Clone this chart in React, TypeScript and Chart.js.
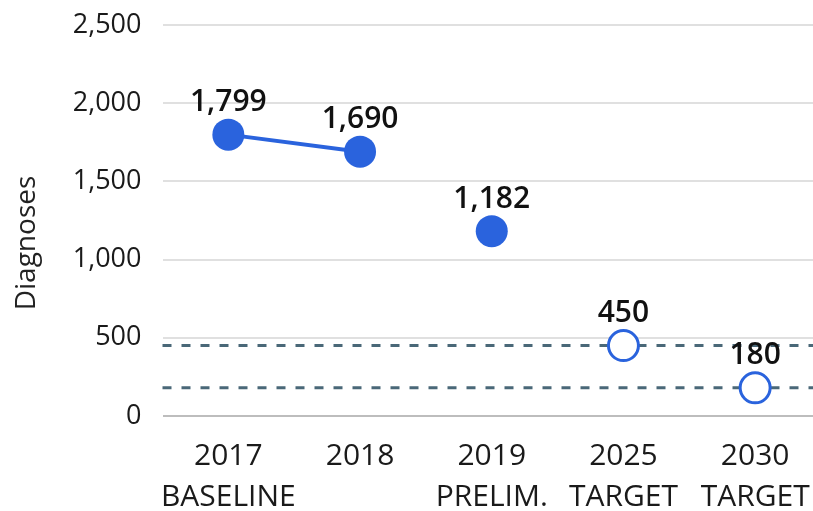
import React, { useEffect, useRef } from "react";
import { Chart, registerables } from "chart.js";

Chart.register(...registerables);

const categories: (string | string[])[] = [
  ["2017", "BASELINE"],
  "2018",
  ["2019", "PRELIM."],
  ["2025", "TARGET"],
  ["2030", "TARGET"],
];
const actualLine: (number | null)[] = [1799, 1690, null, null, null];
const prelim: (number | null)[] = [null, null, 1182, null, null];
const targets: (number | null)[] = [null, null, null, 450, 180];
const targetLevels: number[] = [450, 180];
const yTicks: number[] = [0, 500, 1000, 1500, 2000, 2500];
const yTitle = "Diagnoses";

const BLUE = "#2a63dd";
const DASH = "#4a6878";
const FONT = '"Open Sans", sans-serif';

const refLinesPlugin = {
  id: "refLines",
  beforeDatasetsDraw(chart: any) {
    const { ctx, chartArea, scales } = chart;
    ctx.save();
    ctx.strokeStyle = DASH;
    ctx.lineWidth = 3;
    ctx.setLineDash([9, 10]);
    targetLevels.forEach((v) => {
      const y = scales.y.getPixelForValue(v);
      ctx.beginPath();
      ctx.moveTo(chartArea.left, y);
      ctx.lineTo(chartArea.right + 20, y);
      ctx.stroke();
    });
    ctx.restore();
  },
};

const labelsPlugin = {
  id: "valueLabels",
  afterDatasetsDraw(chart: any) {
    const { ctx } = chart;
    ctx.save();
    ctx.font = `600 30px ${FONT}`;
    ctx.fillStyle = "#111111";
    ctx.textAlign = "center";
    ctx.textBaseline = "middle";
    chart.data.datasets.forEach((ds: any, di: number) => {
      const meta = chart.getDatasetMeta(di);
      ds.data.forEach((v: number | null, i: number) => {
        if (v == null) return;
        const pt = meta.data[i];
        ctx.fillText(v.toLocaleString("en-US"), pt.x, pt.y - 32);
      });
    });
    ctx.restore();
  },
};

const titlePlugin = {
  id: "yTitle",
  afterDraw(chart: any) {
    const { ctx } = chart;
    ctx.save();
    ctx.font = `28px ${FONT}`;
    ctx.fillStyle = "#222222";
    ctx.textAlign = "center";
    ctx.textBaseline = "middle";
    ctx.translate(27, 243);
    ctx.rotate(-Math.PI / 2);
    ctx.fillText(yTitle, 0, 0);
    ctx.restore();
  },
};

export default function App() {
  const ref = useRef<HTMLCanvasElement | null>(null);
  useEffect(() => {
    if (!ref.current) return;
    const chart = new Chart(ref.current, {
      type: "line",
      data: {
        labels: categories as any,
        datasets: [
          {
            data: actualLine,
            borderColor: BLUE,
            backgroundColor: BLUE,
            borderWidth: 4,
            pointRadius: 16,
            pointBackgroundColor: BLUE,
            pointBorderColor: BLUE,
            pointBorderWidth: 0,
            spanGaps: false,
          },
          {
            data: prelim,
            showLine: false,
            borderColor: BLUE,
            pointRadius: 16,
            pointBackgroundColor: BLUE,
            pointBorderColor: BLUE,
            pointBorderWidth: 0,
          },
          {
            data: targets,
            showLine: false,
            borderColor: BLUE,
            pointRadius: 15,
            pointBackgroundColor: "#ffffff",
            pointBorderColor: BLUE,
            pointBorderWidth: 3,
          },
        ],
      },
      options: {
        animation: false,
        responsive: false,
        devicePixelRatio: 1,
        layout: { padding: { top: 25, right: 9, left: 0, bottom: 0 } },
        plugins: {
          legend: { display: false },
          tooltip: { enabled: false },
        },
        scales: {
          x: {
            offset: true,
            afterFit(scale: any) {
              scale.height = 102;
              scale.paddingLeft = 0;
              scale.paddingRight = 0;
            },
            grid: { display: false, drawTicks: false },
            border: { display: false },
            ticks: {
              padding: 20,
              color: "#1a1a1a",
              font: { family: FONT, size: 30, lineHeight: 1.37 },
              maxRotation: 0,
              autoSkip: false,
            },
          },
          y: {
            min: 0,
            max: 2500,
            afterFit(scale: any) {
              scale.width = 162.5;
              scale.paddingTop = 0;
              scale.paddingBottom = 0;
            },
            afterBuildTicks(scale: any) {
              scale.ticks = yTicks.map((v) => ({ value: v }));
            },
            grid: {
              drawTicks: false,
              lineWidth: 2,
              color: (c: any) => (c.tick && c.tick.value === 0 ? "#bdbdbd" : "#e0e0e0"),
            },
            border: { display: false },
            ticks: {
              padding: 21,
              color: "#1a1a1a",
              font: { family: FONT, size: 27 },
              callback: (v: any) => Number(v).toLocaleString("en-US"),
            },
          },
        },
      },
      plugins: [refLinesPlugin, labelsPlugin, titlePlugin],
    } as any);
    return () => chart.destroy();
  }, []);
  return (
    <div
      style={{
        position: "fixed",
        left: 0,
        top: 0,
        width: 813,
        height: 511,
        overflow: "hidden",
        background: "#ffffff",
      }}
    >
      <canvas ref={ref} width={839} height={518} style={{ display: "block" }} />
    </div>
  );
}
